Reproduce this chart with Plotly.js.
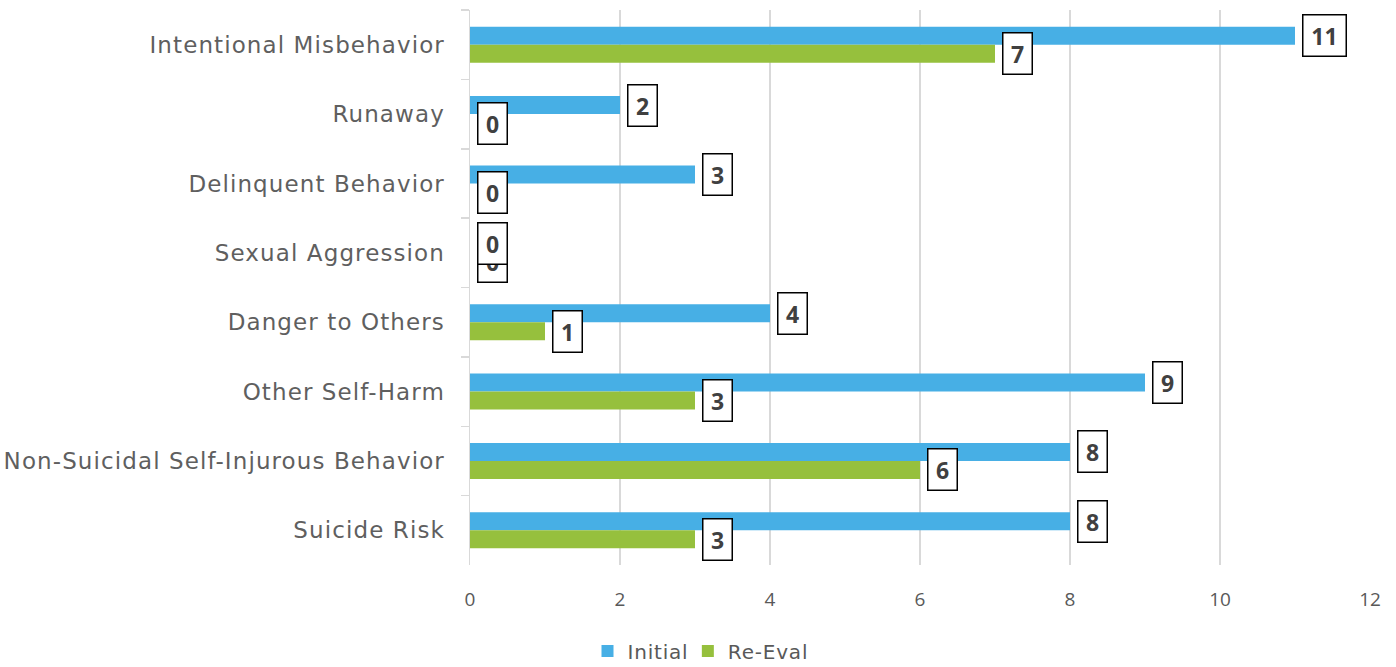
<!DOCTYPE html>
<html>
<head>
<meta charset="utf-8">
<script src="https://cdn.plot.ly/plotly-3.0.1.min.js"></script>
<style>
html,body{margin:0;padding:0;background:#fff;}
#chart{width:1396px;height:667px;}
#chart .ytick text{letter-spacing:1.1px;}
#chart .legendtext{letter-spacing:0.8px;}
</style>
</head>
<body>
<div id="chart"></div>
<script>
// Categories listed top to bottom
const categories = ["Intentional Misbehavior","Runaway","Delinquent Behavior","Sexual Aggression","Danger to Others","Other Self-Harm","Non-Suicidal Self-Injurous Behavior","Suicide Risk"];
const initialValues = [11, 2, 3, 0, 4, 9, 8, 8];
const reevalValues  = [7, 0, 0, 0, 1, 3, 6, 3];
const seriesNames = ["Initial", "Re-Eval"];
const xTicks = [0, 2, 4, 6, 8, 10, 12];

const blue = "#47AFE5", green = "#96C03D";
const labelFont = "'DejaVu Sans', sans-serif";

const traces = [
  {type: "bar", orientation: "h", name: seriesNames[0], y: categories, x: initialValues, marker: {color: blue}, hoverinfo: "x"},
  {type: "bar", orientation: "h", name: seriesNames[1], y: categories, x: reevalValues, marker: {color: green}, hoverinfo: "x"}
];

const annotations = [];
function addLabels(vals, shift) {
  vals.forEach((v, i) => {
    const s = String(v);
    annotations.push({
      x: v, y: categories[i], xref: "x", yref: "y",
      text: "<b>" + s + "</b>", showarrow: false,
      xanchor: "left", yanchor: "middle", xshift: 7, yshift: shift,
      width: s.length > 1 ? 32 : 18, height: 30, align: "center", valign: "middle",
      font: {family: "'Open Sans', sans-serif", size: 23, color: "#404040"},
      bordercolor: "#000", borderwidth: 1.5, borderpad: 5, bgcolor: "#fff"
    });
  });
}
addLabels(reevalValues, -9);
addLabels(initialValues, 9);

const layout = {
  width: 1396, height: 667,
  margin: {l: 470, r: 26, t: 10, b: 102},
  paper_bgcolor: "#fff", plot_bgcolor: "#fff",
  barmode: "group", bargap: 0.48, bargroupgap: 0,
  showlegend: true,
  legend: {orientation: "h", xref: "container", yref: "container", x: 0.5, xanchor: "center", y: 0.024, yanchor: "middle",
           font: {family: labelFont, size: 20, color: "#595959"}, itemwidth: 30, tracegroupgap: 0},
  xaxis: {range: [0, 12], tickvals: xTicks, ticktext: xTicks.map(String), showgrid: true, gridcolor: "#d9d9d9", gridwidth: 1.5,
          zeroline: false, showline: false, ticks: "", ticklabelstandoff: 21,
          tickfont: {family: "'Open Sans', sans-serif", size: 19, color: "#595959"}, fixedrange: true},
  yaxis: {autorange: "reversed", type: "category", showline: true, linecolor: "#d9d9d9", linewidth: 1.5,
          ticks: "outside", tickson: "boundaries", ticklen: 8, tickcolor: "#d9d9d9", tickwidth: 1.5,
          showgrid: false, ticklabelstandoff: 19,
          tickfont: {family: labelFont, size: 23, color: "#5f5f5f"}, fixedrange: true},
  annotations: annotations
};

Plotly.newPlot("chart", traces, layout, {displayModeBar: false, staticPlot: true});
</script>
</body>
</html>
